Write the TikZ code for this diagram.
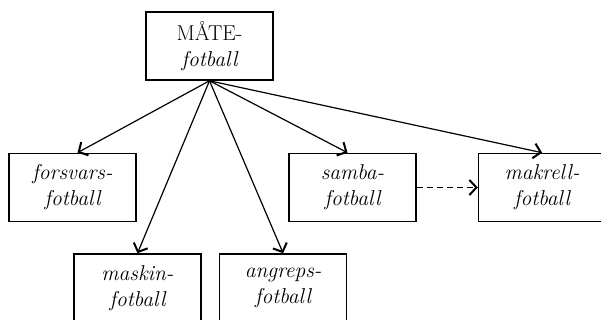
\documentclass[tikz,border=0pt]{standalone}
\usepackage{fontspec}
\usetikzlibrary{positioning, arrows.meta}

\begin{document}
\begin{tikzpicture}[
    x=1pt, y=1pt,
    ->, >={Straight Barb[length=7pt, width=15pt, line width=2pt]}, line width=1.2pt,
    box/.style={rectangle, draw, line width=1.6pt, minimum width=127pt, minimum height=68pt,
                align=center, font=\fontsize{21.5}{26}\selectfont\itshape}
]
    \useasboundingbox (0,0) rectangle (601,320);

    % Nodes
    \node[box] (mate) at (209.5,274) {\upshape MÅTE-\\fotball};
    \node[box] (forsvars) at (72.5,132.5) {forsvars-\\fotball};
    \node[box] (samba) at (352.5,132.5) {samba-\\fotball};
    \node[box] (makrell) [right=61pt of samba] {makrell-\\fotball};
    \node[box] (maskin) at (137.5,32) {maskin-\\fotball};
    \node[box] (angreps) [right=17pt of maskin] {angreps-\\fotball};

    % Arrows from the top box
    \path (mate.south) edge ([xshift=5pt]forsvars.north)
          (mate.south) edge (maskin.north)
          (mate.south) edge (angreps.north)
          (mate.south) edge ([xshift=-5pt]samba.north)
          (mate.south) edge (makrell.north);

    % Dashed link
    \path (samba) edge [dash pattern=on 6pt off 4pt, line width=1.6pt] (makrell);

\end{tikzpicture}
\end{document}
